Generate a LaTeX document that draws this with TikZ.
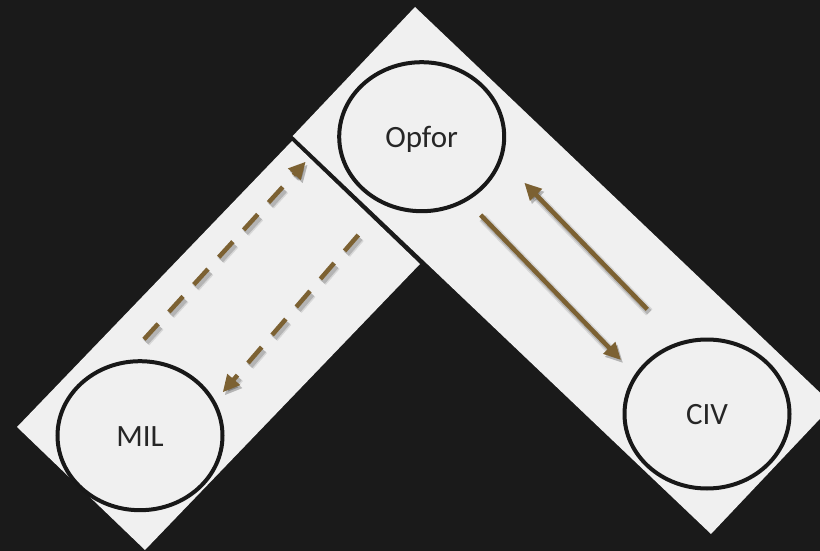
\documentclass[tikz,border=0pt]{standalone}
\usepackage{fontspec}
\setmainfont{Carlito}
\usetikzlibrary{positioning, calc}
\usetikzlibrary{arrows.meta, shapes.geometric}

\definecolor{bgdark}{RGB}{26,26,26}
\definecolor{boxgray}{RGB}{240,240,240}
\definecolor{linkbrown}{RGB}{124,97,50}
\definecolor{textgray}{RGB}{38,38,38}

\tikzset{
  actor/.style={ellipse, draw={rgb,255:red,24;green,24;blue,24}, fill=boxgray,
    line width=4pt, minimum width=165pt, minimum height=149pt, inner sep=0pt,
    font=\fontsize{31}{37}\selectfont, text=textgray,
    text height=21pt, text depth=0pt},
  link/.style={draw=linkbrown, line width=4.5pt, line cap=butt,
    -{Triangle[length=17pt,width=16pt]}},
  linkdash/.style={link, dash pattern=on 21pt off 16pt},
  linkshade/.style={draw=black, opacity=#1,
    transform canvas={xshift=2pt,yshift=-3pt}},
}

\begin{document}
\begin{tikzpicture}[x=1pt, y=-1pt]

  % frame
  \useasboundingbox (0,0) rectangle (820,551);
  \fill[bgdark] (0,0) rectangle (820,551);
  \clip (0,0) rectangle (820,551);

  % MIL -- Opfor box
  \fill[boxgray] (292,141) -- (17,427) -- (145,550) -- (420,264) -- cycle;

  % Opfor -- CIV box
  \fill[boxgray] (292.7,136) -- (415,7) -- (833,405) -- (711,534) -- cycle;

  % actors
  \node[actor] (opfor) at (421.7,136.7) {Opfor};
  \node[actor] (mil)   at (140,435.7)   {MIL};
  \node[actor] (civ)   at (707,414)     {CIV};

  % link ends
  \coordinate (milout)  at (144,339.3);
  \coordinate (opfin)   at (305.7,161.7);
  \coordinate (opfout)  at (358.3,235);
  \coordinate (milin)   at (222.7,392.3);
  \coordinate (opfcout) at (480.7,215);
  \coordinate (civin)   at (621,360);
  \coordinate (civout)  at (647.3,309.3);
  \coordinate (opfcin)  at (524.3,182.7);

  % links with soft shadow
  \foreach \s/\e/\st in {milout/opfin/linkdash, opfout/milin/linkdash,
                         opfcout/civin/link, civout/opfcin/link}{
    \draw[\st, linkshade=0.10, line width=9pt] (\s) -- (\e);
    \draw[\st, linkshade=0.16, line width=6pt] (\s) -- (\e);
    \draw[\st] (\s) -- (\e);
  }

\end{tikzpicture}
\end{document}
